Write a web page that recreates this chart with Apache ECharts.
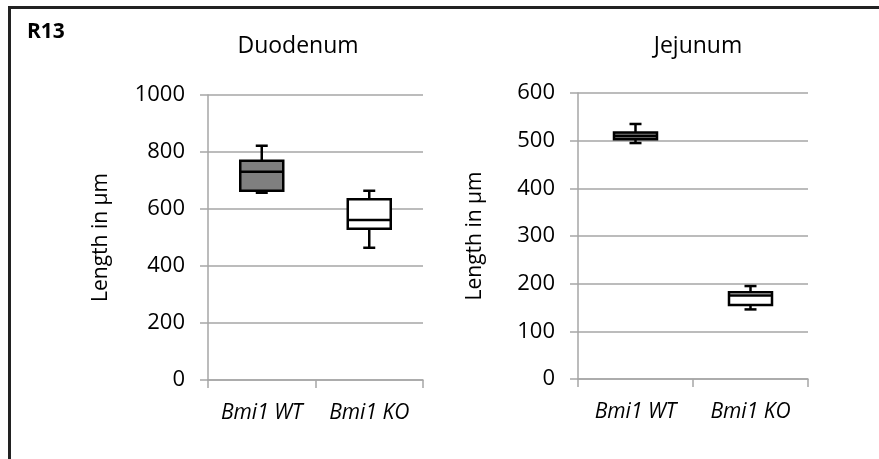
<!DOCTYPE html>
<html>
<head>
<meta charset="utf-8">
<script src="https://cdn.jsdelivr.net/npm/echarts@6/dist/echarts.min.js"></script>
<style>
  html, body { margin: 0; padding: 0; background: #fff; }
  #main { width: 879px; height: 459px; }
</style>
</head>
<body>
<div id="main"></div>
<script>
// categories
const categories = ['Bmi1 WT', 'Bmi1 KO'];

// box stats: [min, Q1, median, Q3, max]
const duodenumWT = [657, 664, 731, 769, 822];
const duodenumKO = [464, 531, 561, 634, 664];
const jejunumWT = [495, 503, 510, 517, 535];
const jejunumKO = [146, 155, 175, 182, 195];

// y tick settings
const duodenumAxis = { min: 0, max: 1000, interval: 200 };
const jejunumAxis = { min: 0, max: 600, interval: 100 };

const boxFills = ['#7f7f7f', '#ffffff'];

const FONT = 'Open Sans';
const GRID_COLOR = '#a6a6a6';

const chart = echarts.init(document.getElementById('main'));

// draws one box with whiskers and short caps
function renderBox(params, api) {
    const x = api.value(0);
    const lo = api.coord([x, api.value(1)]);
    const q1 = api.coord([x, api.value(2)]);
    const med = api.coord([x, api.value(3)]);
    const q3 = api.coord([x, api.value(4)]);
    const hi = api.coord([x, api.value(5)]);
    const cx = lo[0];
    const half = 21.5;
    const cap = 6;
    const st = { stroke: '#000', lineWidth: 2.5 };
    return {
        type: 'group',
        children: [
            { type: 'line', shape: { x1: cx, y1: q3[1], x2: cx, y2: hi[1] }, style: st },
            { type: 'line', shape: { x1: cx - cap, y1: hi[1], x2: cx + cap, y2: hi[1] }, style: st },
            { type: 'line', shape: { x1: cx, y1: q1[1], x2: cx, y2: lo[1] }, style: st },
            { type: 'line', shape: { x1: cx - cap, y1: lo[1], x2: cx + cap, y2: lo[1] }, style: st },
            {
                type: 'rect',
                shape: { x: cx - half, y: q3[1], width: half * 2, height: q1[1] - q3[1] },
                style: { fill: boxFills[x], stroke: '#000', lineWidth: 2.5 }
            },
            { type: 'line', shape: { x1: cx - half, y1: med[1], x2: cx + half, y2: med[1] }, style: st }
        ]
    };
}

function yAxisOpt(idx, ax, gap) {
    return {
        gridIndex: idx,
        type: 'value',
        min: ax.min,
        max: ax.max,
        interval: ax.interval,
        name: 'Length in µm',
        nameLocation: 'middle',
        nameGap: gap,
        nameTextStyle: { fontFamily: FONT, fontSize: 21, color: '#000' },
        axisLine: { show: true, lineStyle: { color: GRID_COLOR, width: 1.5 } },
        axisTick: { show: true, length: 8, lineStyle: { color: GRID_COLOR, width: 1.5 } },
        axisLabel: { fontFamily: FONT, fontSize: 22, color: '#000', margin: 23,
                     formatter: v => String(v) },
        splitLine: { show: true, lineStyle: { color: GRID_COLOR, width: 1.5 } }
    };
}

function xAxisOpt(idx) {
    return {
        gridIndex: idx,
        type: 'category',
        data: categories,
        boundaryGap: true,
        axisLine: { show: true, lineStyle: { color: GRID_COLOR, width: 1.5 } },
        axisTick: { show: true, length: 8, lineStyle: { color: GRID_COLOR, width: 1.5 } },
        axisLabel: { fontFamily: FONT, fontSize: 21, fontStyle: 'italic', color: '#000', margin: 23 }
    };
}

const toRows = (wt, ko) => [[0].concat(wt), [1].concat(ko)];

const option = {
    backgroundColor: '#fff',
    animation: false,
    title: [
        { text: 'Duodenum', left: 293, top: 30, textAlign: 'center',
          textStyle: { fontFamily: FONT, fontSize: 23, fontWeight: 'normal', color: '#000' } },
        { text: 'Jejunum', left: 693, top: 30, textAlign: 'center',
          textStyle: { fontFamily: FONT, fontSize: 23, fontWeight: 'normal', color: '#000' } }
    ],
    grid: [
        { left: 208, right: 456, top: 95, bottom: 79 },
        { left: 578, right: 71, top: 93, bottom: 80 }
    ],
    xAxis: [xAxisOpt(0), xAxisOpt(1)],
    yAxis: [yAxisOpt(0, duodenumAxis, 96), yAxisOpt(1, jejunumAxis, 92)],
    graphic: [
        { type: 'line', shape: { x1: 8, y1: 7.5, x2: 879, y2: 7.5 }, style: { stroke: '#222', lineWidth: 3 } },
        { type: 'line', shape: { x1: 9.5, y1: 6, x2: 9.5, y2: 459 }, style: { stroke: '#222', lineWidth: 3 } },
        { type: 'text', left: 27, top: 22,
          style: { text: 'R13', font: 'bold 21px "Open Sans"', fill: '#000' } }
    ],
    series: [
        { type: 'custom', xAxisIndex: 0, yAxisIndex: 0, renderItem: renderBox,
          encode: { x: 0, y: [1, 2, 3, 4, 5] }, data: toRows(duodenumWT, duodenumKO) },
        { type: 'custom', xAxisIndex: 1, yAxisIndex: 1, renderItem: renderBox,
          encode: { x: 0, y: [1, 2, 3, 4, 5] }, data: toRows(jejunumWT, jejunumKO) }
    ]
};

chart.setOption(option);
</script>
</body>
</html>
